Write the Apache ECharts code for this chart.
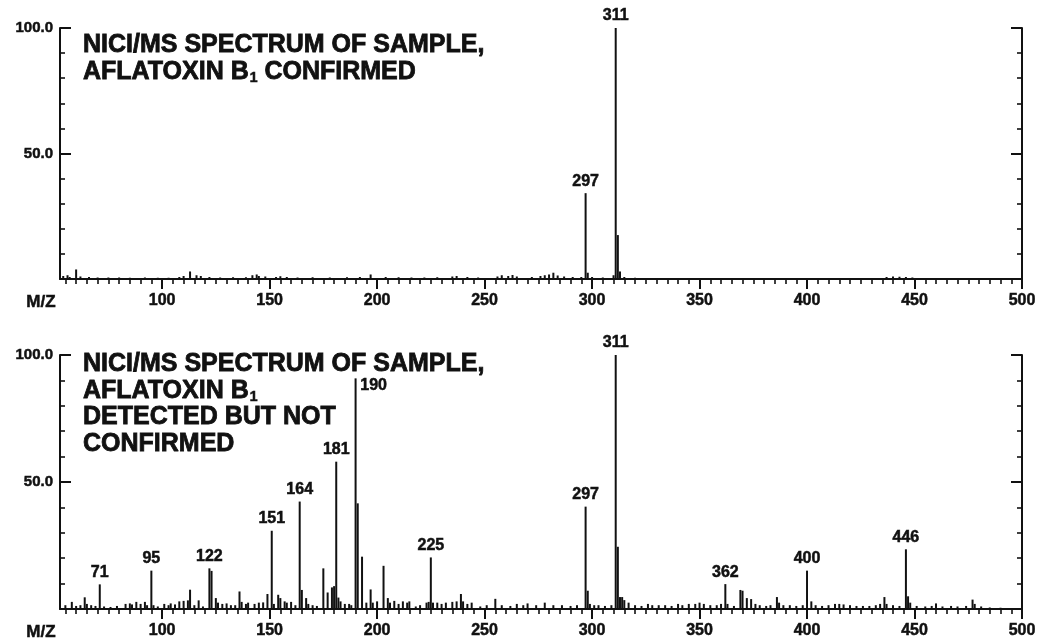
<!DOCTYPE html>
<html>
<head>
<meta charset="utf-8">
<title>NICI/MS spectra of aflatoxin B1 samples</title>
<script src="https://cdn.jsdelivr.net/npm/echarts@6/dist/echarts.min.js"></script>
<style>
  html, body { margin: 0; padding: 0; background: #ffffff; }
  #chart { width: 1043px; height: 643px; }
</style>
</head>
<body>
<div id="chart"></div>
<script>
// ---- m/z axis ----
const mzMin = 52.5;
const mzMax = 500;
const mzMajorTicks = [100, 150, 200, 250, 300, 350, 400, 450, 500];

// ---- relative intensity axis (%) ----
const intensityMajorTicks = [50, 100];
const intensityMinorTicks = [10, 20, 30, 40, 60, 70, 80, 90];

// ---- upper spectrum: aflatoxin B1 confirmed ----
const confirmedMz = [54, 56, 57, 60, 62, 66, 70, 75, 80, 85, 92, 98, 103, 108, 110, 113, 116, 118, 122, 127,
  133, 139, 142, 144, 145, 148, 153, 155, 158, 163, 170, 178, 186, 192, 197, 204, 210, 216, 222, 228,
  235, 237, 242, 247, 256, 258, 261, 263, 265, 272, 276, 278, 280, 282, 284, 287, 291, 295, 297, 298,
  300, 305, 310, 311, 312, 313, 315, 320, 330, 345, 437, 440, 443, 446, 449];
const confirmedIntensity = [1.2, 1.5, 0.8, 3.8, 1.0, 0.8, 0.6, 0.6, 0.6, 0.5, 0.6, 0.5, 0.5, 0.8, 1.2, 3.0, 1.5, 1.2, 0.8, 0.6,
  0.7, 0.7, 1.5, 1.8, 1.2, 1.0, 0.8, 1.1, 0.8, 0.6, 0.7, 0.6, 0.7, 0.8, 1.8, 0.8, 0.7, 0.6, 0.6, 0.7,
  1.0, 1.2, 0.8, 0.6, 1.0, 1.5, 1.2, 1.6, 1.0, 0.8, 1.2, 1.5, 1.8, 2.5, 1.4, 1.0, 0.8, 0.8, 34.2, 2.5,
  0.8, 0.6, 1.5, 100, 17.5, 3.0, 0.8, 0.5, 0.4, 0.4, 0.8, 1.0, 0.9, 0.8, 0.6];
const confirmedLabeled = [297, 311];

// ---- lower spectrum: aflatoxin B1 detected but not confirmed ----
const unconfirmedMz = [55, 58, 60, 62, 64, 65, 67, 69, 71, 73, 76, 79, 83, 85, 86, 88, 90, 92, 93, 95,
  96, 98, 101, 103, 104, 106, 108, 110, 112, 113, 115, 117, 119, 122, 123, 125, 126, 128, 130, 132,
  134, 136, 137, 139, 140, 143, 145, 147, 149, 151, 152, 154, 155, 157, 158, 160, 162, 164, 165, 167,
  168, 170, 172, 175, 177, 179, 180, 181, 182, 183, 185, 187, 188, 190, 191, 193, 195, 197, 198, 200,
  203, 205, 206, 208, 210, 212, 214, 215, 218, 220, 223, 224, 225, 226, 228, 230, 232, 235, 237, 239,
  240, 242, 244, 248, 251, 255, 258, 262, 265, 268, 270, 274, 278, 282, 286, 290, 293, 297, 298, 299,
  301, 303, 306, 309, 311, 312, 313, 314, 315, 317, 320, 323, 326, 328, 331, 334, 337, 340, 342, 345,
  348, 350, 352, 355, 358, 360, 362, 363, 366, 369, 370, 372, 374, 376, 378, 381, 383, 386, 387, 389,
  392, 395, 398, 400, 402, 404, 407, 410, 413, 415, 417, 420, 423, 426, 429, 432, 434, 436, 437, 440,
  443, 446, 447, 448, 451, 455, 458, 460, 463, 467, 470, 474, 477, 478, 481, 485, 490];
const unconfirmedIntensity = [1.5, 2.8, 1.2, 1.5, 4.6, 2.0, 1.5, 1.2, 9.7, 1.0, 0.8, 1.2, 2.0, 2.2, 1.8, 2.8, 2.0, 2.8, 1.5, 15.1,
  1.5, 1.0, 2.0, 1.5, 2.2, 1.8, 3.0, 3.2, 3.4, 7.6, 1.5, 3.4, 1.0, 16.0, 15.0, 4.3, 2.5, 2.0, 2.2, 1.5,
  1.5, 6.9, 2.8, 2.0, 2.5, 2.0, 2.5, 2.6, 5.9, 30.8, 2.0, 5.6, 4.3, 3.0, 2.5, 2.8, 1.5, 42.3, 7.5, 4.3,
  2.0, 1.5, 1.2, 16.0, 6.5, 8.5, 9.0, 58.0, 4.5, 3.0, 2.0, 2.0, 1.5, 90.8, 41.6, 20.6, 2.5, 7.7, 2.5, 3.0,
  17.0, 4.3, 2.5, 3.2, 2.0, 3.0, 2.5, 3.0, 1.0, 1.5, 2.5, 2.8, 20.3, 2.5, 2.5, 2.0, 2.5, 2.8, 3.0, 5.9,
  3.0, 2.0, 2.5, 1.0, 1.5, 4.0, 1.5, 1.2, 2.0, 1.5, 2.2, 1.5, 2.5, 1.5, 1.5, 1.2, 1.5, 40.3, 7.2, 2.0,
  1.5, 1.5, 1.2, 1.5, 100, 24.5, 4.7, 4.7, 3.5, 2.5, 1.5, 1.2, 2.0, 1.5, 1.5, 1.5, 1.2, 2.0, 1.5, 2.0,
  2.0, 2.5, 2.0, 1.5, 1.5, 2.0, 9.8, 2.0, 1.2, 7.5, 7.2, 4.3, 3.9, 2.0, 1.5, 1.2, 1.5, 4.7, 2.5, 1.5,
  1.5, 1.2, 1.5, 15.1, 3.0, 1.5, 1.2, 1.5, 2.0, 2.0, 1.8, 1.5, 1.2, 1.2, 1.2, 1.5, 2.0, 4.7, 2.0, 1.5,
  1.2, 23.5, 5.0, 2.5, 1.2, 1.0, 1.2, 2.2, 1.0, 1.2, 1.0, 1.2, 3.7, 2.0, 1.0, 0.6, 0.5];
const unconfirmedLabeled = [71, 95, 122, 151, 164, 181, 190, 225, 297, 311, 362, 400, 446];

// ---- panel captions (each line: [text, subscript, text after]) ----
const confirmedCaption = [
  ['NICI/MS SPECTRUM OF SAMPLE,', '', ''],
  ['AFLATOXIN B', '1', ' CONFIRMED']
];
const unconfirmedCaption = [
  ['NICI/MS SPECTRUM OF SAMPLE,', '', ''],
  ['AFLATOXIN B', '1', ''],
  ['DETECTED BUT NOT', '', ''],
  ['CONFIRMED', '', '']
];
const mzAxisTitle = 'M/Z';

// ---------------------------------------------------------------
const INK = '#111111';
const FONT = '"Liberation Sans", Arial, Helvetica, sans-serif';
const CAPTION_SIZE = 25;
const SUB_SIZE = 14;

// short ticks every 5 m/z between the labelled ones
const mzMinorTicks = [];
for (let v = 55; v < mzMax; v += 5) {
  if (v % 50 !== 0) mzMinorTicks.push(v);
}

// label offset for the 190 peak, whose number sits beside the line
const unconfirmedLabelOffsets = { 190: [18, 19] };

function peakData(mz, intensity, labeled, offsets) {
  return mz.map((m, i) => {
    const item = { value: [m, intensity[i]] };
    if (labeled.includes(m)) {
      item.label = { show: true };
      if (offsets && offsets[m]) item.label.offset = offsets[m];
    }
    return item;
  });
}

const grids = [
  { left: 60, right: 21, top: 28, height: 251 },
  { left: 60, right: 21, top: 355, height: 254 }
];

const boldLabel = { color: INK, fontWeight: 'bold', fontFamily: FONT, textBorderColor: INK, textBorderWidth: 0.5 };

const xAxes = [];
const yAxes = [];
grids.forEach((g, gi) => {
  xAxes.push({
    gridIndex: gi, type: 'value', min: mzMin, max: mzMax, position: 'bottom',
    axisLine: { show: true, onZero: false, lineStyle: { color: INK, width: 2 } },
    axisTick: { show: true, customValues: mzMajorTicks, length: 10, lineStyle: { color: INK, width: 2 } },
    axisLabel: Object.assign({ show: true, customValues: mzMajorTicks, fontSize: 16, margin: 14 }, boldLabel),
    splitLine: { show: false }
  });
  xAxes.push({
    gridIndex: gi, type: 'value', min: mzMin, max: mzMax, position: 'bottom',
    axisLine: { show: false },
    axisTick: { show: true, customValues: mzMinorTicks, length: 5, lineStyle: { color: INK, width: 1.6 } },
    axisLabel: { show: false },
    splitLine: { show: false }
  });
  ['left', 'right'].forEach(side => {
    yAxes.push({
      gridIndex: gi, type: 'value', min: 0, max: 100, position: side,
      axisLine: { show: true, onZero: false, lineStyle: { color: INK, width: 2 } },
      axisTick: { show: true, inside: true, customValues: intensityMinorTicks, length: 5,
        lineStyle: { color: INK, width: 1.6 } },
      axisLabel: side === 'left'
        ? Object.assign({ show: true, customValues: intensityMajorTicks, formatter: v => v.toFixed(1),
            fontSize: 15, margin: 7 }, boldLabel)
        : { show: false },
      splitLine: { show: false }
    });
    yAxes.push({
      gridIndex: gi, type: 'value', min: 0, max: 100, position: side,
      axisLine: { show: false },
      axisTick: { show: true, inside: true, customValues: intensityMajorTicks, length: 11,
        lineStyle: { color: INK, width: 2 } },
      axisLabel: { show: false },
      splitLine: { show: false }
    });
  });
});

function spectrumSeries(gi, data) {
  return {
    type: 'bar',
    xAxisIndex: gi * 2,
    yAxisIndex: gi * 4,
    data: data,
    barWidth: 2,
    itemStyle: { color: INK },
    label: Object.assign({
      show: false, position: 'top', distance: 4,
      formatter: p => String(p.value[0]),
      fontSize: 16
    }, boldLabel),
    silent: true,
    animation: false
  };
}

// text width helper for placing the subscript after "B"
const measureCtx = document.createElement('canvas').getContext('2d');
function textWidth(text, size) {
  measureCtx.font = 'bold ' + size + 'px ' + FONT;
  return measureCtx.measureText(text).width;
}

function textEl(text, x, y, size, border) {
  return {
    type: 'text', x: x, y: y, silent: true,
    style: {
      text: text, fill: INK, stroke: INK, lineWidth: border,
      fontSize: size, fontWeight: 'bold', fontFamily: FONT,
      align: 'left', verticalAlign: 'middle'
    }
  };
}

function captionLines(lines, firstY) {
  const els = [];
  lines.forEach((parts, i) => {
    const y = firstY + i * 26.7;
    let x = 83;
    els.push(textEl(parts[0], x, y, CAPTION_SIZE, 0.8));
    if (parts[1]) {
      x += textWidth(parts[0], CAPTION_SIZE) + 1;
      els.push(textEl(parts[1], x, y + 6.5, SUB_SIZE, 0.6));
      x += textWidth(parts[1], SUB_SIZE);
      if (parts[2]) els.push(textEl(parts[2], x, y, CAPTION_SIZE, 0.8));
    }
  });
  return els;
}

function axisTitle(y) {
  return {
    type: 'text', x: 41, y: y, silent: true,
    style: { text: mzAxisTitle, fill: INK, stroke: INK, lineWidth: 0.5, fontSize: 17, fontWeight: 'bold',
      fontFamily: FONT, align: 'center', verticalAlign: 'middle' }
  };
}

const chart = echarts.init(document.getElementById('chart'), null, { renderer: 'canvas' });
chart.setOption({
  backgroundColor: '#ffffff',
  animation: false,
  grid: grids,
  xAxis: xAxes,
  yAxis: yAxes,
  series: [
    spectrumSeries(0, peakData(confirmedMz, confirmedIntensity, confirmedLabeled, null)),
    spectrumSeries(1, peakData(unconfirmedMz, unconfirmedIntensity, unconfirmedLabeled, unconfirmedLabelOffsets))
  ],
  graphic: [
    ...captionLines(confirmedCaption, 45),
    ...captionLines(unconfirmedCaption, 364),
    axisTitle(302),
    axisTitle(632)
  ]
});
</script>
</body>
</html>
